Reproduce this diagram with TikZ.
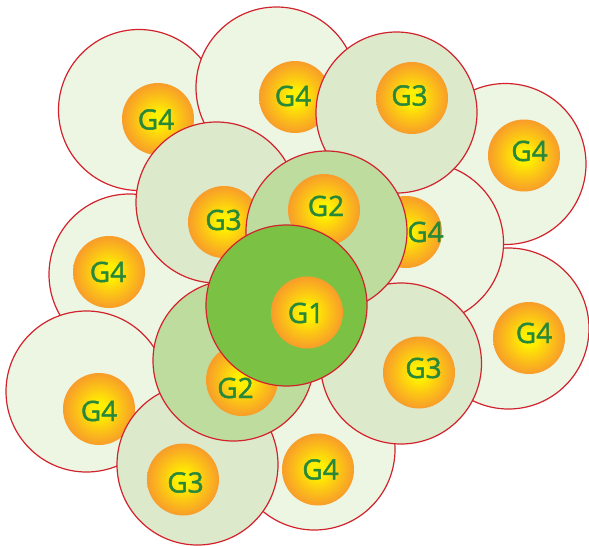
\documentclass[tikz,border=0pt]{standalone}
\usepackage{fontspec}
\newfontfamily\zonefont[FakeBold=1.6]{Open Sans}
\usepackage{tikz}
\definecolor{ZoneRed}    {RGB}{210, 35, 45}
\definecolor{FourFill}   {RGB}{237,245,227}
\definecolor{ThreeFill}  {RGB}{220,233,203}
\definecolor{TwoFill}    {RGB}{190,220,158}
\definecolor{OneFill}    {RGB}{123,193, 67}
\definecolor{CoreYellow} {RGB}{255,240,  0}
\definecolor{CoreMid}    {RGB}{252,200, 20}
\definecolor{CoreDeep}   {RGB}{248,160, 40}
\definecolor{CoreOrange} {RGB}{244,138, 46}
\definecolor{LabelGreen} {RGB}{ 40,136, 58}
\pgfdeclareradialshading{coreglow}{\pgfpoint{0bp}{0bp}}{%
  color(0bp)=(CoreYellow); color(5bp)=(CoreYellow);
  color(14bp)=(CoreMid); color(24bp)=(CoreDeep);
  color(34bp)=(CoreOrange); color(50bp)=(CoreOrange)}

\begin{document}
\begin{tikzpicture}[
  x=1pt, y=-1pt,
  zone/.style={
    circle, draw=ZoneRed, line width=1.2pt,
    minimum size=161pt, inner sep=0pt
  },
  four/.style={zone, fill=FourFill},
  three/.style={zone, fill=ThreeFill},
  two/.style={zone, fill=TwoFill},
  one/.style={zone, fill=OneFill},
  core/.style={
    circle, minimum size=72pt, inner sep=0pt,
    shade, shading=coreglow},
  tag/.style={
    font=\zonefont\fontsize{28}{28}\selectfont,
    text=LabelGreen, inner sep=0pt}
]
\useasboundingbox (0,0) rectangle (589,546);

% outer G4 ring
\node[four] (ring4a) at (139,110) {};
\node[core] (core4a) at (158,119) {};
\node[tag] (lab4a) at (156,119.5) {G4};

\node[four] (ring4b) at (129.5,274.5) {};
\node[core] (core4b) at (109,272) {};
\node[tag] (lab4b) at (108,272) {G4};

\node[four] (ring4c) at (86.5,391.5) {};
\node[core] (core4c) at (99,409) {};
\node[tag] (lab4c) at (99,411) {G4};

\node[four] (ring4d) at (505.5,164) {};
\node[core] (core4d) at (524,155.5) {};
\node[tag] (lab4d) at (529.5,151) {G4};

\node[four] (ring4e) at (508.5,328.5) {};
\node[core] (core4e) at (529,338) {};
\node[tag] (lab4e) at (534,333) {G4};

\node[four] (ring4f) at (314.5,449.5) {};
\node[core] (core4f) at (318,469.5) {};
\node[tag] (lab4f) at (320.5,469.5) {G4};

\node[four] (ring4g) at (276.5,87.5) {};
\node[core] (core4g) at (295,97) {};
\node[tag] (lab4g) at (293,96) {G4};

\node[four] (ring4h) at (423,243) {};
\node[core] (core4h) at (406,232) {};
\node[tag] (lab4h) at (425.5,232) {G4};

% G3 ring
\node[three] (ring3a) at (396.5,112.5) {};
\node[core] (core3a) at (412,98) {};
\node[tag] (lab3a) at (409.5,95.5) {G3};

\node[three] (ring3b) at (216.5,202.5) {};
\node[core] (core3b) at (224,222) {};
\node[tag] (lab3b) at (223.5,220) {G3};

\node[three] (ring3c) at (197.5,464.5) {};
\node[core] (core3c) at (183,479.5) {};
\node[tag] (lab3c) at (185.5,482.5) {G3};

\node[three] (ring3d) at (401,363.5) {};
\node[core] (core3d) at (419,372.5) {};
\node[tag] (lab3d) at (423.5,368) {G3};

% G2 ring
\node[two] (ring2a) at (326.5,231.5) {};
\node[core] (core2a) at (324,210) {};
\node[tag] (lab2a) at (326,206) {G2};

\node[two] (ring2b) at (233.5,360.5) {};
\node[core] (core2b) at (242,380) {};
\node[tag] (lab2b) at (235.5,388) {G2};

% G1 centre
\node[one] (ring1) at (286.5,305.5) {};
\node[core] (core1) at (307,312.5) {};
\node[tag] (lab1) at (306,313) {G1};
\end{tikzpicture}
\end{document}
